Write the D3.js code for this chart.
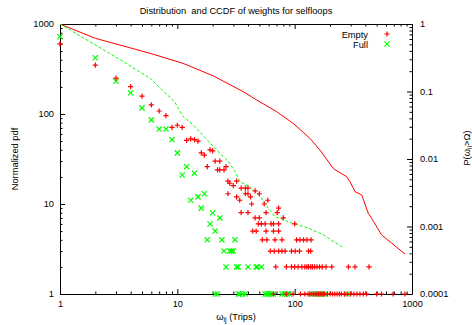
<!DOCTYPE html>
<html>
<head>
<meta charset="utf-8">
<script src="https://cdn.jsdelivr.net/npm/d3@7"></script>
<style>
  body { margin: 0; background: #fff; }
  text { font-family: "Liberation Sans", Arial, sans-serif; }
</style>
</head>
<body>
<div id="chart"></div>
<script>
// Tick values
const xTicks = [1, 10, 100, 1000];
const yTicks = [1, 10, 100, 1000];
const y2Ticks = [0.0001, 0.001, 0.01, 0.1, 1];
const y2Labels = ["0.0001", "0.001", "0.01", "0.1", "1"];

// Normalized pdf, Empty (weight, count)
const emptyPdf = [
  [1, 600], [2, 350], [3, 250], [4, 201], [5, 158], [6, 126], [7, 108], [8, 96], [9, 71], [10, 75],
  [11, 71], [12, 51], [13, 53], [14, 52], [15, 50], [16, 37], [17, 35], [19, 40], [20, 39], [21, 30],
  [23, 30], [18, 26], [26, 26], [22, 24], [23, 24], [25, 24], [27, 18], [32, 18], [28, 17], [30, 16],
  [35, 15], [38, 15], [40, 15], [46, 14], [27, 13], [38, 13], [40, 13], [50, 13], [32, 12], [42, 12],
  [34, 11], [59, 11], [43, 10], [55, 10], [73, 9], [35, 8], [40, 8], [57, 8], [71, 8], [46, 7], [50, 7], [80, 7],
  [49, 6], [52, 6], [56, 6], [63, 6], [66, 6], [73, 6], [100, 6],
  [44, 5], [47, 5], [57, 5], [66, 5], [73, 5],
  [53, 4], [58, 4], [68, 4], [78, 4], [104, 4], [111, 4], [119, 4], [127, 4], [138, 4],
  [62, 3], [67, 3], [73, 3], [78, 3], [83, 3], [94, 3], [101, 3], [110, 3], [131, 3], [137, 3],
  [69, 2], [85, 2], [94, 2], [100, 2], [107, 2], [115, 2], [122, 2], [127, 2], [131, 2], [137, 2],
  [142, 2], [148, 2], [155, 2], [163, 2], [172, 2], [185, 2], [207, 2], [287, 2], [327, 2], [430, 2]
];
const emptyOnes = [66, 85, 97, 112, 122, 130, 135, 140, 145, 150, 155, 160, 165, 170, 175, 180, 190, 200,
  210, 220, 230, 240, 250, 265, 280, 300, 320, 340, 360, 385, 410, 500, 550, 690, 870];

// Normalized pdf, Full (weight, count)
const fullPdf = [
  [1, 722], [2, 422], [3, 231], [4, 172], [5, 117], [6, 86], [7, 68], [8, 68], [9, 52], [10, 37],
  [11, 21], [12, 26], [13, 11], [14, 22], [15, 12], [16, 9], [17, 13], [18, 4], [19, 6], [20, 8],
  [21, 5], [23, 7], [24, 4], [31, 4], [25, 3], [28, 3], [29, 3], [30, 3],
  [26, 2], [32, 2], [33, 2], [40, 2], [47, 2], [48, 2], [52, 2]
];
const fullOnes = [21, 22, 33, 34, 36, 38, 56, 58, 60, 63, 66, 78, 82, 86, 90, 140, 150, 160, 170, 180, 280];

// CCDF P(w > W), right axis
const emptyCcdfX = [1, 2, 5.85, 11.2, 20.3, 36.5, 47.5, 70.3, 97, 135, 164, 214, 277, 296, 327, 373, 424, 453, 551, 871];
const emptyCcdfY = [1, 0.614, 0.368, 0.261, 0.17, 0.0994, 0.0748, 0.0502, 0.0338, 0.0202, 0.0136, 0.0072,
  0.00547, 0.00461, 0.00328, 0.00293, 0.00157, 0.00132, 0.000748, 0.000392];
const fullCcdfX = [1, 2, 3.29, 5.85, 9.5, 11.2, 13.7, 20.3, 27.3, 31, 34.2, 41.5, 50.8, 59.5, 68, 95, 130, 176, 256];
const fullCcdfY = [1, 0.49, 0.293, 0.157, 0.07, 0.0424, 0.0318, 0.0152, 0.0091, 0.0065, 0.0046, 0.00391,
  0.00277, 0.00186, 0.0014, 0.00112, 0.00095, 0.00075, 0.00049];

const width = 472, height = 325;
const margin = {top: 24, right: 60, bottom: 31, left: 60};
const font = "'Liberation Sans', Arial, sans-serif";
const fontSize = 9.3;
const red = "#ff0000", green = "#00ff00";

const svg = d3.select("#chart")
  .append("svg")
  .attr("width", width)
  .attr("height", height);

const x = d3.scaleLog().domain([1, 1000]).range([margin.left, width - margin.right]);
const y = d3.scaleLog().domain([1, 1000]).range([height - margin.bottom, margin.top]);
const y2 = d3.scaleLog().domain([0.0001, 1]).range([height - margin.bottom, margin.top]);

// minor ticks 2..9 in each decade
function minors(lo, hi) {
  const out = [];
  for (let d = lo; d < hi * 0.99; d *= 10)
    for (let k = 2; k < 10; k++) out.push(d * k);
  return out;
}

function styleAxis(g) {
  g.attr("font-size", fontSize).attr("font-family", font);
  g.selectAll("text").attr("fill", "#000");
}

const bottom = height - margin.bottom, right = width - margin.right;

// major axes
svg.append("g")
  .attr("transform", "translate(0," + bottom + ")")
  .call(d3.axisBottom(x).tickValues(xTicks).tickFormat(d3.format("d")).tickSize(-5).tickSizeOuter(0).tickPadding(6))
  .call(styleAxis);
svg.append("g")
  .attr("transform", "translate(0," + margin.top + ")")
  .call(d3.axisTop(x).tickValues(xTicks).tickFormat("").tickSize(-5).tickSizeOuter(0))
  .call(styleAxis);
svg.append("g")
  .attr("transform", "translate(" + margin.left + ",0)")
  .call(d3.axisLeft(y).tickValues(yTicks).tickFormat(d3.format("d")).tickSize(-5).tickSizeOuter(0).tickPadding(6))
  .call(styleAxis);
svg.append("g")
  .attr("transform", "translate(" + right + ",0)")
  .call(d3.axisRight(y2).tickValues(y2Ticks).tickFormat((d, i) => y2Labels[i]).tickSize(-5).tickSizeOuter(0).tickPadding(8))
  .call(styleAxis);

// minor ticks
const minorSize = -2.5;
svg.append("g").attr("transform", "translate(0," + bottom + ")")
  .call(d3.axisBottom(x).tickValues(minors(1, 1000)).tickFormat("").tickSize(minorSize).tickSizeOuter(0))
  .call(g => g.select(".domain").remove());
svg.append("g").attr("transform", "translate(0," + margin.top + ")")
  .call(d3.axisTop(x).tickValues(minors(1, 1000)).tickFormat("").tickSize(minorSize).tickSizeOuter(0))
  .call(g => g.select(".domain").remove());
svg.append("g").attr("transform", "translate(" + margin.left + ",0)")
  .call(d3.axisLeft(y).tickValues(minors(1, 1000)).tickFormat("").tickSize(minorSize).tickSizeOuter(0))
  .call(g => g.select(".domain").remove());
svg.append("g").attr("transform", "translate(" + right + ",0)")
  .call(d3.axisRight(y2).tickValues(minors(0.0001, 1)).tickFormat("").tickSize(minorSize).tickSizeOuter(0))
  .call(g => g.select(".domain").remove());

// title and axis labels
svg.append("text")
  .attr("x", 236).attr("y", 14)
  .attr("text-anchor", "middle")
  .style("font-size", fontSize + "px")
  .text("Distribution  and CCDF of weights for selfloops")
  .attr("xml:space", "preserve")
  .style("white-space", "pre");

const xl = svg.append("text")
  .attr("x", 236).attr("y", 320)
  .attr("text-anchor", "middle")
  .style("font-size", fontSize + "px");
xl.append("tspan").text("ω");
xl.append("tspan").attr("dy", 2).style("font-size", "7px").text("ij");
xl.append("tspan").attr("dy", -2).text(" (Trips)");

svg.append("text")
  .attr("transform", "translate(18,159) rotate(-90)")
  .attr("text-anchor", "middle")
  .style("font-size", fontSize + "px")
  .text("Normalized pdf");

const yl2 = svg.append("text")
  .attr("transform", "translate(470,148) rotate(-90)")
  .attr("text-anchor", "middle")
  .style("font-size", fontSize + "px");
yl2.append("tspan").text("P(ω");
yl2.append("tspan").attr("dy", 2).style("font-size", "7px").text("ij");
yl2.append("tspan").attr("dy", -2).text(">Ω)");

// clip for the lines
svg.append("clipPath").attr("id", "plot")
  .append("rect")
  .attr("x", margin.left).attr("y", margin.top)
  .attr("width", right - margin.left).attr("height", bottom - margin.top);

const line = d3.line()
  .x(d => x(d[0]))
  .y(d => y2(d[1]));

svg.append("path")
  .datum(d3.zip(emptyCcdfX, emptyCcdfY))
  .attr("clip-path", "url(#plot)")
  .attr("fill", "none")
  .attr("stroke", red)
  .attr("stroke-width", 1)
  .attr("d", line);

svg.append("path")
  .datum(d3.zip(fullCcdfX, fullCcdfY))
  .attr("clip-path", "url(#plot)")
  .attr("fill", "none")
  .attr("stroke", green)
  .attr("stroke-width", 1)
  .attr("stroke-dasharray", "3,2")
  .attr("d", line);

// point symbols
const s = 2.6;
const plusPath = `M${-s},0H${s}M0,${-s}V${s}`;
const crossPath = `M${-s},${-s}L${s},${s}M${-s},${s}L${s},${-s}`;

const emptyAll = emptyPdf.concat(emptyOnes.map(v => [v, 1]));
const fullAll = fullPdf.concat(fullOnes.map(v => [v, 1]));

svg.append("g").selectAll("path")
  .data(fullAll)
  .enter()
  .append("path")
  .attr("transform", d => "translate(" + x(d[0]) + "," + y(d[1]) + ")")
  .attr("d", crossPath)
  .attr("stroke", green)
  .attr("stroke-width", 1.2)
  .attr("fill", "none");

svg.append("g").selectAll("path")
  .data(emptyAll)
  .enter()
  .append("path")
  .attr("transform", d => "translate(" + x(d[0]) + "," + y(d[1]) + ")")
  .attr("d", plusPath)
  .attr("stroke", red)
  .attr("stroke-width", 1.2)
  .attr("fill", "none");

// legend
const legend = [["Empty", red, plusPath], ["Full", green, crossPath]];
legend.forEach((l, i) => {
  svg.append("text")
    .attr("x", 368).attr("y", 37.5 + i * 10)
    .attr("text-anchor", "end")
    .style("font-size", fontSize + "px")
    .text(l[0]);
  svg.append("path")
    .attr("transform", "translate(387," + (34 + i * 10) + ")")
    .attr("d", l[2])
    .attr("stroke", l[1])
    .attr("stroke-width", 1.2)
    .attr("fill", "none");
});
</script>
</body>
</html>
